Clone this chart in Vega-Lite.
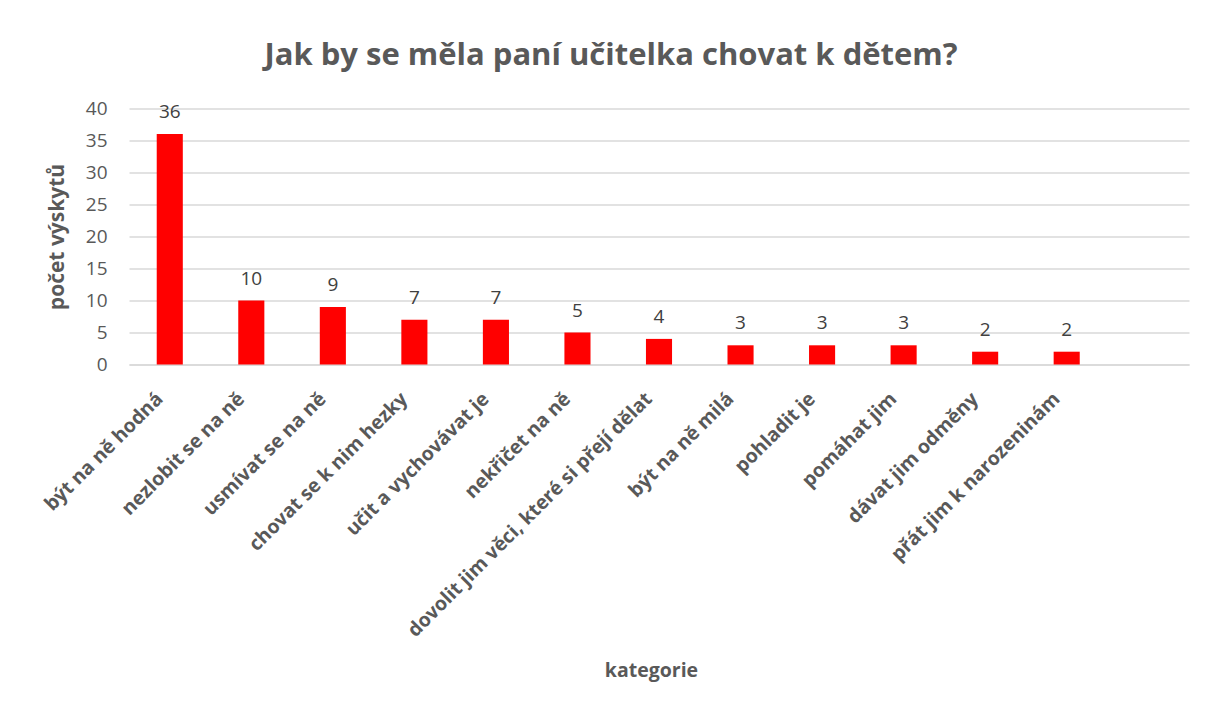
{
  "$schema": "https://vega.github.io/schema/vega-lite/v6.json",
  "width": 1060,
  "height": 256,
  "autosize": {"type": "none"},
  "padding": {"left": 129, "top": 108.5, "right": 19, "bottom": 346.5},
  "background": "white",
  "title": {
    "text": "Jak by se měla paní učitelka chovat k dětem?",
    "font": "Open Sans",
    "fontSize": 31,
    "fontWeight": "bold",
    "color": "#595959",
    "anchor": "middle",
    "dx": -48,
    "offset": 28
  },
  "data": {
    "values": [
      {"kategorie": "být na ně hodná", "pocet": 36},
      {"kategorie": "nezlobit se na ně", "pocet": 10},
      {"kategorie": "usmívat se na ně", "pocet": 9},
      {"kategorie": "chovat se k nim hezky", "pocet": 7},
      {"kategorie": "učit a vychovávat je", "pocet": 7},
      {"kategorie": "nekřičet na ně", "pocet": 5},
      {"kategorie": "dovolit jim věci, které si přejí dělat", "pocet": 4},
      {"kategorie": "být na ně milá", "pocet": 3},
      {"kategorie": "pohladit je", "pocet": 3},
      {"kategorie": "pomáhat jim", "pocet": 3},
      {"kategorie": "dávat jim odměny", "pocet": 2},
      {"kategorie": "přát jim k narozeninám", "pocet": 2}
    ]
  },
  "encoding": {
    "x": {
      "field": "kategorie",
      "type": "nominal",
      "sort": null,
      "scale": {
        "domain": ["být na ně hodná", "nezlobit se na ně", "usmívat se na ně", "chovat se k nim hezky", "učit a vychovávat je", "nekřičet na ně", "dovolit jim věci, které si přejí dělat", "být na ně milá", "pohladit je", "pomáhat jim", "dávat jim odměny", "přát jim k narozeninám", " "],
        "paddingInner": 0.68,
        "paddingOuter": 0.34
      },
      "axis": {
        "title": "kategorie",
        "titleFont": "Open Sans",
        "titleFontSize": 19.5,
        "titleFontWeight": "bold",
        "titleColor": "#595959",
        "titleBaseline": "middle",
        "titleY": 306,
        "titleX": 522,
        "labelAngle": -45,
        "labelAlign": "right",
        "labelBaseline": "middle",
        "labelFont": "Open Sans",
        "labelFontSize": 19.5,
        "labelFontWeight": "bold",
        "labelColor": "#595959",
        "labelPadding": 31,
        "labelOffset": -10,
        "labelOverlap": false,
        "labelLimit": 0,
        "ticks": false,
        "domain": true,
        "domainColor": "#d9d9d9",
        "domainWidth": 1.5,
        "grid": false
      }
    },
    "y": {
      "field": "pocet",
      "type": "quantitative",
      "scale": {"domain": [0, 40]},
      "axis": {
        "title": "počet výskytů",
        "titleFont": "Open Sans",
        "titleFontSize": 21,
        "titleFontWeight": "bold",
        "titleColor": "#595959",
        "titlePadding": 18,
        "values": [0, 5, 10, 15, 20, 25, 30, 35, 40],
        "labelFont": "Open Sans",
        "labelFontSize": 19,
        "labelColor": "#595959",
        "labelPadding": 22,
        "ticks": false,
        "domain": false,
        "grid": true,
        "gridColor": "#d9d9d9",
        "gridWidth": 1.5
      }
    }
  },
  "layer": [
    {"mark": {"type": "bar", "color": "#ff0000"}},
    {
      "mark": {"type": "text", "baseline": "alphabetic", "dy": -16, "font": "Open Sans", "fontSize": 19, "color": "#404040"},
      "encoding": {"text": {"field": "pocet", "type": "quantitative"}}
    }
  ],
  "config": {"view": {"stroke": null}}
}
